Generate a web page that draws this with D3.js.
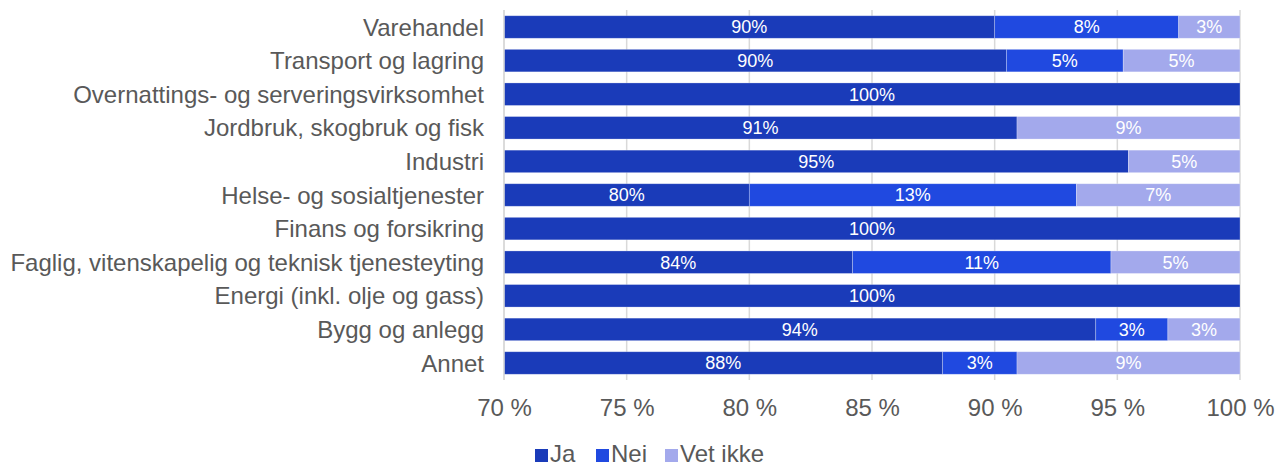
<!DOCTYPE html>
<html><head><meta charset="utf-8">
<script src="https://cdn.jsdelivr.net/npm/d3@7"></script>
<style>body{margin:0;background:#fff;} text{font-family:"Liberation Sans",Arial,sans-serif;}</style>
</head><body>
<svg id="c" width="1275" height="468"></svg>
<script>
const categories = ["Varehandel","Transport og lagring","Overnattings- og serveringsvirksomhet","Jordbruk, skogbruk og fisk","Industri","Helse- og sosialtjenester","Finans og forsikring","Faglig, vitenskapelig og teknisk tjenesteyting","Energi (inkl. olje og gass)","Bygg og anlegg","Annet"];
const seriesNames = ["Ja","Nei","Vet ikke"];
const ja =      [90.0, 90.48, 100, 90.91, 95.45, 80.0, 100, 84.21, 100, 94.12, 87.88];
const nei =     [7.5,  4.76,  0,   0,     0,     13.33, 0,  10.53, 0,   2.94,  3.03];
const vetIkke = [2.5,  4.76,  0,   9.09,  4.55,  6.67, 0,   5.26,  0,   2.94,  9.09];
const tickValues = [70,75,80,85,90,95,100];
const colors = ["#1a3bb9","#2049e0","#a3a9ec"];

const svg = d3.select("#c");
const x = d3.scaleLinear().domain([70,100]).range([504,1240]);
const y = d3.scaleBand().domain(categories).range([10.2,379.8]).paddingInner(0.33).paddingOuter(0.165);

// gridlines
svg.append("g").selectAll("line").data(tickValues).join("line")
  .attr("x1",d=>x(d)).attr("x2",d=>x(d)).attr("y1",10).attr("y2",380)
  .attr("stroke","#d9d9d9").attr("stroke-width",1.5);

const series = [ja,nei,vetIkke];
categories.forEach((cat,i)=>{
  let start=0;
  series.forEach((s,k)=>{
    const v=s[i];
    if(v>0){
      const a=start, b=start+v;
      const x0=x(Math.max(a,70)), x1=x(Math.max(b,70));
      if(x1>x0){
        svg.append("rect").attr("x",x0).attr("y",y(cat)).attr("width",x1-x0).attr("height",y.bandwidth())
          .attr("fill",colors[k]).attr("stroke","#ffffff").attr("stroke-opacity",0.35).attr("stroke-width",0.75);
        svg.append("text").attr("x",(x0+x1)/2).attr("y",y(cat)+y.bandwidth()/2).attr("dy","0.36em")
          .attr("text-anchor","middle").attr("fill","#fff").attr("font-size",18)
          .text(Math.round(v)+"%");
      }
    }
    start+=v;
  });
});

// y axis line
svg.append("line").attr("x1",504).attr("x2",504).attr("y1",10).attr("y2",380).attr("stroke","#d9d9d9").attr("stroke-width",1.5);

// category labels
svg.append("g").selectAll("text").data(categories).join("text")
  .attr("x",484).attr("y",d=>y(d)+y.bandwidth()/2).attr("dy","0.36em")
  .attr("text-anchor","end").attr("fill","#595959").attr("font-size",24).text(d=>d);

// x tick labels
const xAxis = d3.axisBottom(x).tickValues(tickValues).tickFormat(d=>d+" %").tickSize(0);
const gx = svg.append("g").attr("transform","translate(0,396)").call(xAxis);
gx.select(".domain").remove();
gx.selectAll("text").attr("fill","#595959").attr("font-size",24).attr("font-family","Liberation Sans, Arial, sans-serif");

// legend
const legX=[535,596,665];
const lg = svg.append("g");
seriesNames.forEach((n,k)=>{
  lg.append("rect").attr("x",legX[k]).attr("y",449).attr("width",13).attr("height",13).attr("fill",colors[k]);
  lg.append("text").attr("x",legX[k]+15).attr("y",453).attr("dy","0.36em").attr("fill","#595959").attr("font-size",24).text(n);
});
</script>
</body></html>
